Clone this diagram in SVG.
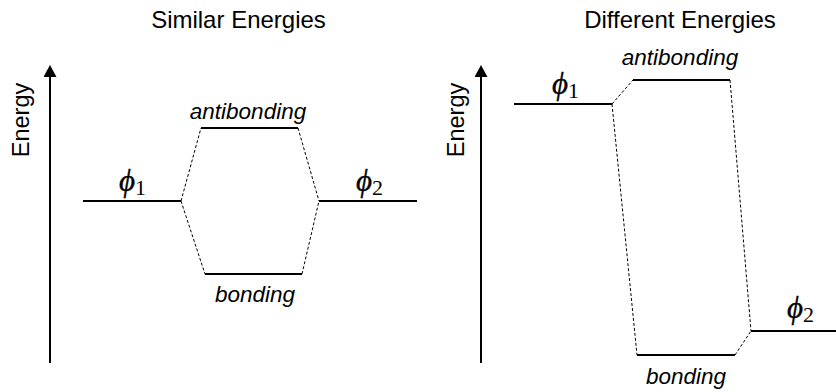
<svg xmlns="http://www.w3.org/2000/svg" width="836" height="392" viewBox="0 0 836 392">
<style>
.t{font-family:"Liberation Sans",Arial,sans-serif;font-size:24px;fill:#000;text-anchor:middle}
.e{font-family:"Liberation Sans",Arial,sans-serif;font-size:23.5px;fill:#000;text-anchor:middle}
.l{font-family:"Liberation Sans",Arial,sans-serif;font-size:22.5px;font-style:italic;fill:#000;text-anchor:middle}
.p{font-family:"Liberation Serif","Times New Roman",serif;font-size:31px;font-style:italic;fill:#000;stroke:#000;stroke-width:0.35}
.s{font-family:"Liberation Serif","Times New Roman",serif;font-size:22px;font-style:normal;stroke:none}
.lvl{stroke:#000;stroke-width:2;fill:none}
.ax{stroke:#000;stroke-width:2;fill:none}
.d{stroke:#000;stroke-width:1;stroke-dasharray:3,2;fill:none}
</style>
<defs>
<marker id="ah" viewBox="0 0 12 13" refX="0" refY="6.5" markerWidth="12" markerHeight="13" markerUnits="userSpaceOnUse" orient="auto">
<path d="M0,0 L12,6.5 L0,13 Z" fill="#000"/>
</marker>
</defs>
<text class="t" x="238.5" y="28">Similar Energies</text>
<text class="t" x="680" y="28">Different Energies</text>
<g id="axis-left">
<line class="ax" x1="50" y1="363" x2="50" y2="77" marker-end="url(#ah)"/>
<text class="e" transform="translate(29,120) rotate(-90)">Energy</text>
</g>
<g id="axis-right">
<line class="ax" x1="481" y1="363" x2="481" y2="77" marker-end="url(#ah)"/>
<text class="e" transform="translate(464,120) rotate(-90)">Energy</text>
</g>
<g id="s-phi1">
<line class="lvl" x1="83" y1="201" x2="181" y2="201"/>
<text class="p" x="119" y="191">ϕ<tspan class="s" dy="4">1</tspan></text>
</g>
<g id="s-phi2">
<line class="lvl" x1="319" y1="201" x2="417" y2="201"/>
<text class="p" x="356" y="191">ϕ<tspan class="s" dy="4">2</tspan></text>
</g>
<g id="s-antibonding">
<line class="lvl" x1="201" y1="128" x2="298" y2="128"/>
<text class="l" x="248" y="119">antibonding</text>
</g>
<g id="s-bonding">
<line class="lvl" x1="205" y1="274" x2="302" y2="274"/>
<text class="l" x="255" y="302">bonding</text>
</g>
<g id="d-phi1">
<line class="lvl" x1="514" y1="104" x2="612" y2="104"/>
<text class="p" x="552" y="94">ϕ<tspan class="s" dy="4">1</tspan></text>
</g>
<g id="d-phi2">
<line class="lvl" x1="751" y1="331" x2="836" y2="331"/>
<text class="p" x="787" y="318">ϕ<tspan class="s" dy="4">2</tspan></text>
</g>
<g id="d-antibonding">
<line class="lvl" x1="633" y1="80" x2="730" y2="80"/>
<text class="l" x="680" y="65">antibonding</text>
</g>
<g id="d-bonding">
<line class="lvl" x1="637" y1="355" x2="735" y2="355"/>
<text class="l" x="686" y="384">bonding</text>
</g>
<g id="connectors">
<line class="d" x1="181" y1="201" x2="201" y2="128"/>
<line class="d" x1="298" y1="128" x2="319" y2="201"/>
<line class="d" x1="181" y1="201" x2="205" y2="274"/>
<line class="d" x1="302" y1="274" x2="319" y2="201"/>
<line class="d" x1="612" y1="104" x2="633" y2="80"/>
<line class="d" x1="612" y1="104" x2="637" y2="355"/>
<line class="d" x1="730" y1="80" x2="751" y2="331"/>
<line class="d" x1="735" y1="355" x2="751" y2="331"/>
</g>
</svg>
